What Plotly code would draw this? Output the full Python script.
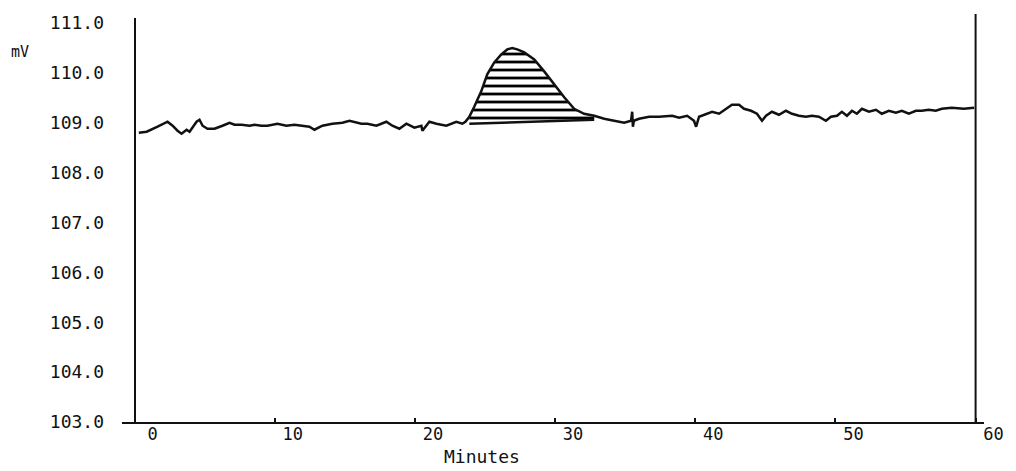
import plotly.graph_objects as go

# Detector trace: time (minutes) and signal (mV)
time_min = [
    0.30, 0.86, 1.64, 2.35, 2.71, 3.06, 3.35, 3.71, 3.92, 4.42, 4.63, 4.85, 5.20,
    5.70, 6.27, 6.77, 7.13, 7.63, 8.20, 8.55, 9.05, 9.48, 10.19, 10.83, 11.40,
    11.90, 12.47, 12.83, 13.40, 14.11, 14.83, 15.33, 15.89, 16.18, 16.61, 17.25,
    17.96, 18.39, 18.89, 19.39, 19.96, 20.46, 20.53, 21.03, 21.53, 22.24, 22.95,
    23.38, 23.60, 23.88, 24.23, 24.73, 25.16, 25.66, 26.16, 26.59, 26.94, 27.30,
    27.80, 28.51, 29.22, 29.94, 30.65, 31.36, 32.07, 32.79, 33.50, 34.21, 34.93,
    35.42, 35.50, 35.55, 35.62, 35.99, 36.71, 37.42, 38.35, 38.85, 39.42, 39.91,
    40.06, 40.27, 40.77, 41.20, 41.70, 42.20, 42.62, 43.12, 43.48, 43.98, 44.40,
    44.76, 45.05, 45.47, 45.97, 46.47, 46.90, 47.40, 47.90, 48.32, 48.82, 49.32,
    49.68, 50.11, 50.46, 50.82, 51.18, 51.53, 51.89, 52.39, 52.89, 53.31, 53.81,
    54.31, 54.74, 55.24, 55.74, 56.16, 56.66, 57.16, 57.59, 58.30, 59.16, 59.90,
]
signal_mv = [
    108.80, 108.82, 108.92, 109.02, 108.94, 108.84, 108.78, 108.86, 108.82, 109.02,
    109.06, 108.94, 108.88, 108.88, 108.94, 109.00, 108.96, 108.96, 108.94, 108.96,
    108.94, 108.94, 108.98, 108.94, 108.96, 108.94, 108.92, 108.86, 108.94, 108.98,
    109.00, 109.04, 109.00, 108.98, 108.98, 108.94, 109.02, 108.94, 108.88, 108.98,
    108.90, 108.94, 108.84, 109.02, 108.98, 108.94, 109.02, 108.98, 109.02, 109.12,
    109.32, 109.63, 109.97, 110.21, 110.37, 110.47, 110.50, 110.47, 110.41, 110.27,
    110.03, 109.77, 109.51, 109.28, 109.18, 109.14, 109.08, 109.04, 109.00, 109.04,
    109.22, 108.92, 109.04, 109.08, 109.12, 109.12, 109.14, 109.10, 109.14, 109.04,
    108.92, 109.12, 109.18, 109.22, 109.18, 109.28, 109.36, 109.36, 109.28, 109.24,
    109.18, 109.04, 109.14, 109.22, 109.16, 109.24, 109.18, 109.14, 109.12, 109.14,
    109.12, 109.04, 109.12, 109.14, 109.22, 109.14, 109.24, 109.18, 109.28, 109.22,
    109.26, 109.18, 109.24, 109.20, 109.24, 109.18, 109.24, 109.24, 109.26, 109.24,
    109.28, 109.30, 109.28, 109.30,
]

# Integrated peak: start/end times and the baseline drawn under it
peak_start_min = 23.88
peak_end_min = 32.79
peak_baseline_mv = [108.98, 109.06]

# Axis ticks
x_ticks = [0, 10, 20, 30, 40, 50, 60]
x_tick_text = ["0", "10", "20", "30", "40", "50", "60"]
y_ticks = [103, 104, 105, 106, 107, 108, 109, 110, 111]
y_tick_text = ["103.0", "104.0", "105.0", "106.0", "107.0", "108.0", "109.0", "110.0", "111.0"]

INK = "#111111"
FONT = "DejaVu Sans Mono"

# Outline of the hatched peak area: trace over the peak, closed along the baseline
peak_x = [t for t in time_min if peak_start_min <= t <= peak_end_min]
peak_y = [v for t, v in zip(time_min, signal_mv) if peak_start_min <= t <= peak_end_min]
area_x = peak_x + [peak_end_min, peak_start_min]
area_y = peak_y + [peak_baseline_mv[1], peak_baseline_mv[0]]

fig = go.Figure()

fig.add_trace(go.Scatter(
    x=area_x, y=area_y, mode="lines", fill="toself",
    fillcolor="rgba(0,0,0,0)",
    fillpattern=dict(shape="-", fgcolor="#000000", fgopacity=1,
                     bgcolor="rgba(0,0,0,0)", size=8, solidity=0.35),
    line=dict(width=0), hoverinfo="skip", showlegend=False,
))
fig.add_trace(go.Scatter(
    x=[peak_start_min, peak_end_min], y=peak_baseline_mv, mode="lines",
    line=dict(color=INK, width=2.5), hoverinfo="skip", showlegend=False,
))
fig.add_trace(go.Scatter(
    x=time_min, y=signal_mv, mode="lines",
    line=dict(color=INK, width=2.5), showlegend=False,
))

# Right-hand frame line at the end of the run
fig.add_shape(type="line", xref="x", yref="paper", x0=60, x1=60, y0=0, y1=1.01,
              line=dict(color=INK, width=2))

fig.add_annotation(text="mV", xref="paper", yref="paper", x=-0.118, y=0.917,
                   xanchor="center", yanchor="middle", showarrow=False,
                   font=dict(family=FONT, size=15, color=INK))
fig.add_annotation(text="Minutes", xref="paper", yref="paper", x=0.418, y=-0.086,
                   xanchor="center", yanchor="middle", showarrow=False,
                   font=dict(family=FONT, size=18, color=INK))

fig.update_layout(
    width=1016, height=471,
    margin=dict(l=122, r=31, t=13, b=49),
    paper_bgcolor="white", plot_bgcolor="white",
    font=dict(family=FONT, color=INK),
    xaxis=dict(
        range=[-0.9, 60.6], tickvals=x_ticks, ticktext=x_tick_text,
        showgrid=False, zeroline=True, zerolinecolor=INK, zerolinewidth=2,
        showline=True, linecolor=INK, linewidth=2,
        ticks="inside", ticklen=4, tickwidth=2, tickcolor=INK,
        ticklabelshift=18, ticklabelstandoff=-4,
        tickfont=dict(family=FONT, size=17, color=INK),
    ),
    yaxis=dict(
        range=[103, 111.1], tickvals=y_ticks, ticktext=y_tick_text,
        showgrid=False, zeroline=False, showline=False, ticks="",
        ticklabelstandoff=17, tickfont=dict(family=FONT, size=18, color=INK),
    ),
)

fig.write_html("out.html")
